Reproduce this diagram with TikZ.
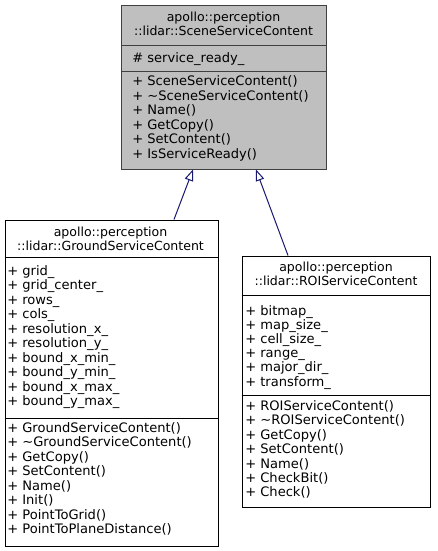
\documentclass[tikz,border=0pt]{standalone}
\usepackage{fontspec}
\setmainfont{DejaVu Sans}
\usetikzlibrary{arrows.meta}
\definecolor{edgeblue}{RGB}{25,25,112}
\definecolor{basegray}{RGB}{191,191,191}
\definecolor{baseborder}{RGB}{64,64,64}
\def\px{0.75pt}

\begin{document}
\begin{tikzpicture}[x=0.75pt, y=-0.75pt,
  classbox/.style={draw=black, fill=white, line width=0.75pt, inner sep=0},
  member/.style={anchor=base west, inner sep=0, font=\fontsize{9.8}{11}\selectfont},
  title/.style={anchor=base, inner sep=0, font=\fontsize{9.4}{11}\selectfont},
  inherit/.style={draw=edgeblue, line width=0.75pt, -{Triangle[open, length=8.5pt, width=6.5pt]}}]
\useasboundingbox [fill=white] (0,0) rectangle (437,551);
% base class
\node (scene) [classbox, fill=basegray, draw=baseborder, minimum width=205*\px, minimum height=164*\px] at (223.5,87) {};
\draw [baseborder, line width=0.75pt] (scene.west |- 0,45) -- (scene.east |- 0,45);
\draw [baseborder, line width=0.75pt] (scene.west |- 0,71) -- (scene.east |- 0,71);
\node (scene-t1) [title] at (223.5,21) {apollo::perception};
\node (scene-t2) [title] at (223.5,35) {::lidar::SceneServiceContent};
\node (scene-a0) [member] at (132,62) {\# service\_ready\_};
\foreach \m [count=\i from 0] in {+ SceneServiceContent(), + \textasciitilde SceneServiceContent(), + Name(), + GetCopy(), + SetContent(), + IsServiceReady()}
\node (scene-m\i) [member] at (132,85.5+14.6*\i) {\m};
% ground
\node (ground) [classbox, minimum width=213*\px, minimum height=326*\px] at (111.5,383) {};
\draw [line width=0.75pt] (ground.west |- 0,257) -- (ground.east |- 0,257);
\draw [line width=0.75pt] (ground.west |- 0,418) -- (ground.east |- 0,418);
\node (ground-t1) [title] at (110.5,236) {apollo::perception};
\node (ground-t2) [title] at (110.5,250) {::lidar::GroundServiceContent};
\foreach \m [count=\i from 0] in {grid\_, grid\_center\_, rows\_, cols\_, resolution\_x\_, resolution\_y\_, bound\_x\_min\_, bound\_y\_min\_, bound\_x\_max\_, bound\_y\_max\_}
\node (ground-a\i) [member] at (7,275.5+14.44*\i) {+ \m};
\foreach \m [count=\i from 0] in {GroundServiceContent(), \textasciitilde GroundServiceContent(), GetCopy(), SetContent(), Name(), Init(), PointToGrid(), PointToPlaneDistance()}
\node (ground-m\i) [member] at (7,432.5+14.43*\i) {+ \m};
% roi
\node (roi) [classbox, minimum width=188*\px, minimum height=251*\px] at (336,381.5) {};
\draw [line width=0.75pt] (roi.west |- 0,295) -- (roi.east |- 0,295);
\draw [line width=0.75pt] (roi.west |- 0,395) -- (roi.east |- 0,395);
\node (roi-t1) [title] at (336,271.5) {apollo::perception};
\node (roi-t2) [title] at (336,285.5) {::lidar::ROIServiceContent};
\foreach \m [count=\i from 0] in {bitmap\_, map\_size\_, cell\_size\_, range\_, major\_dir\_, transform\_}
\node (roi-a\i) [member] at (245,315.5+14.1*\i) {+ \m};
\foreach \m [count=\i from 0] in {ROIServiceContent(), \textasciitilde ROIServiceContent(), GetCopy(), SetContent(), Name(), CheckBit(), Check()}
\node (roi-m\i) [member] at (245,410.5+14.4*\i) {+ \m};
% inheritance
\draw [inherit] (ground.north -| 174,0) -- (scene.south -| 193,0);
\draw [inherit] (roi.north -| 288,0) -- (scene.south -| 256,0);
\end{tikzpicture}
\end{document}
